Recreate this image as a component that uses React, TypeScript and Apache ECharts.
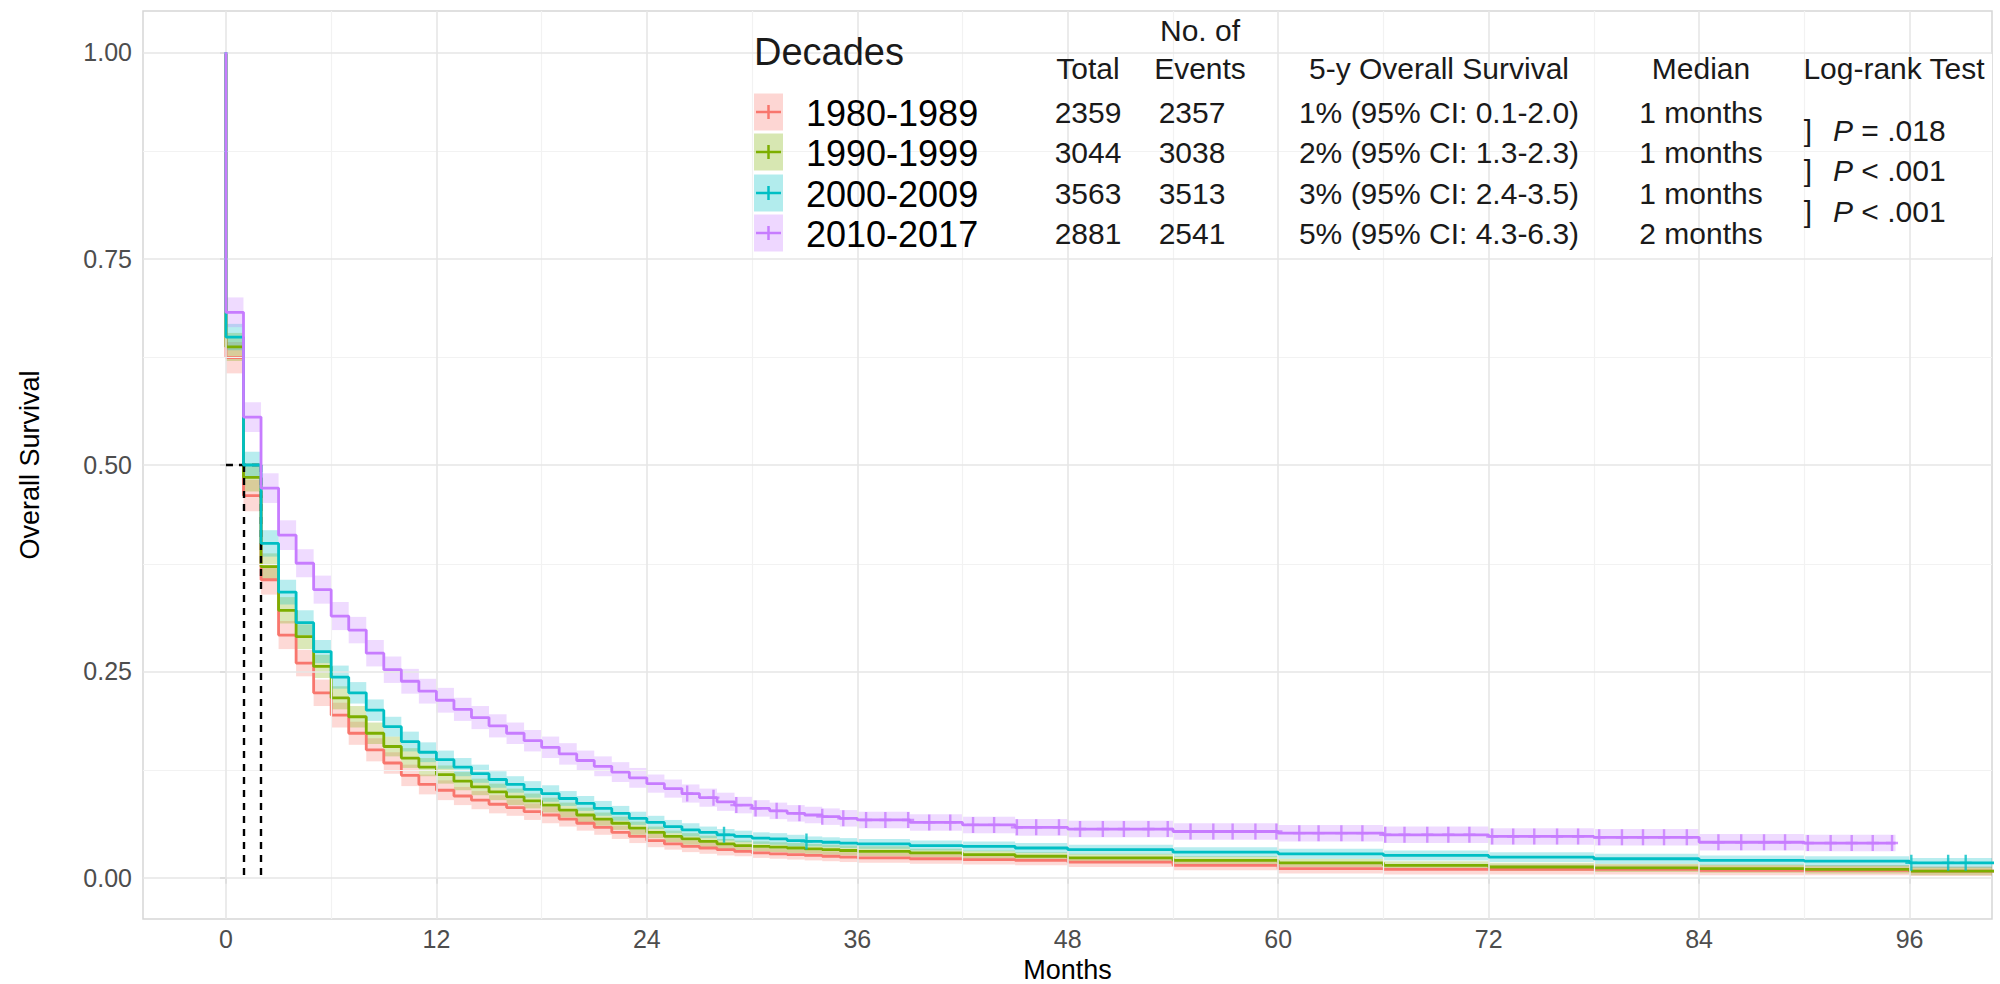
import React, { useEffect, useRef } from "react";
import * as echarts from "echarts";

const FONT = "'Liberation Sans', Arial, Helvetica, sans-serif";

// ---------- table / legend content ----------
const decades = ["1980-1989", "1990-1999", "2000-2009", "2010-2017"];
const colors = ["#F8766D", "#7CAE00", "#00BFC4", "#C77CFF"];
const totals = ["2359", "3044", "3563", "2881"];
const events = ["2357", "3038", "3513", "2541"];
const fiveYear = [
  "1% (95% CI: 0.1-2.0)",
  "2% (95% CI: 1.3-2.3)",
  "3% (95% CI: 2.4-3.5)",
  "5% (95% CI: 4.3-6.3)",
];
const medians = ["1 months", "1 months", "1 months", "2 months"];
const medianMonths = [1, 1, 1, 2];
const pSigns = ["= .018", "< .001", "< .001"];

// ---------- axes ----------
const xTicks = [0, 12, 24, 36, 48, 60, 72, 84, 96];
const xMinor = [6, 18, 30, 42, 54, 66, 78, 90];
const yTicks = [0, 0.25, 0.5, 0.75, 1];
const yMinor = [0.125, 0.375, 0.625, 0.875];

// ---------- survival data (value on [months[i], months[i+1])) ----------
const months = [
  0, 1, 2, 3, 4, 5, 6, 7, 8, 9, 10, 11, 12, 13, 14, 15, 16, 17, 18, 19, 20,
  21, 22, 23, 24, 25, 26, 27, 28, 29, 30, 31, 32, 33, 34, 35, 36, 39, 42, 45,
  48, 54, 60, 66, 72, 78, 84, 90, 96,
];

const surv1980 = [
  0.63, 0.463, 0.361, 0.294, 0.26, 0.224, 0.197, 0.175, 0.155, 0.139,
  0.124, 0.113, 0.106, 0.099, 0.094, 0.089, 0.085, 0.08, 0.076, 0.071,
  0.066, 0.061, 0.055, 0.05, 0.045, 0.041, 0.038, 0.036, 0.034, 0.032,
  0.03, 0.029, 0.028, 0.027, 0.026, 0.025, 0.024,
  0.023, 0.022, 0.021, 0.019, 0.015, 0.011, 0.01, 0.01, 0.01, 0.009, 0.009, 0.008,
];
const surv1990 = [
  0.643, 0.485, 0.377, 0.324, 0.292, 0.256, 0.218, 0.195, 0.175, 0.159,
  0.145, 0.134, 0.125, 0.117, 0.11, 0.104, 0.098, 0.093, 0.088, 0.082,
  0.076, 0.071, 0.066, 0.06, 0.055, 0.05, 0.047, 0.044, 0.041, 0.039,
  0.038, 0.037, 0.036, 0.035, 0.034, 0.033, 0.032,
  0.03, 0.028, 0.026, 0.024, 0.021, 0.018, 0.015, 0.013, 0.012, 0.011, 0.01, 0.008,
];
const surv2000 = [
  0.655, 0.5, 0.405, 0.346, 0.309, 0.274, 0.243, 0.224, 0.203, 0.183,
  0.165, 0.152, 0.143, 0.134, 0.126, 0.119, 0.113, 0.107, 0.102, 0.096,
  0.09, 0.084, 0.078, 0.072, 0.067, 0.062, 0.058, 0.055, 0.052, 0.05,
  0.048, 0.047, 0.045, 0.044, 0.043, 0.042, 0.041,
  0.039, 0.038, 0.036, 0.034, 0.031, 0.029, 0.027, 0.025, 0.023, 0.021, 0.02, 0.018,
];
const surv2010 = [
  0.685, 0.558, 0.472, 0.415, 0.381, 0.349, 0.317, 0.3, 0.272, 0.252,
  0.238, 0.226, 0.215, 0.204, 0.194, 0.184, 0.175, 0.166, 0.158, 0.15,
  0.142, 0.135, 0.128, 0.121, 0.114, 0.108, 0.102, 0.097, 0.092, 0.088,
  0.084, 0.081, 0.078, 0.076, 0.074, 0.072, 0.07,
  0.067, 0.064, 0.061, 0.059, 0.056, 0.054, 0.052, 0.05, 0.049, 0.043, 0.042, 0.042,
];

// half-width of the 95% confidence band
const ci1980 = [
  0.019, 0.019, 0.018, 0.017, 0.016, 0.016, 0.015, 0.014, 0.014, 0.013,
  0.013, 0.012, 0.012, 0.011, 0.011, 0.011, 0.01, 0.01, 0.01, 0.009,
  0.009, 0.009, 0.008, 0.008, 0.008, 0.007, 0.007, 0.007, 0.007, 0.006,
  0.006, 0.006, 0.006, 0.006, 0.006, 0.006, 0.006,
  0.006, 0.006, 0.006, 0.006, 0.006, 0.006, 0.006, 0.006, 0.006, 0.006, 0.006, 0.006,
];
const ci1990 = [
  0.017, 0.017, 0.016, 0.016, 0.015, 0.014, 0.014, 0.013, 0.013, 0.012,
  0.012, 0.011, 0.011, 0.011, 0.01, 0.01, 0.01, 0.009, 0.009, 0.009,
  0.009, 0.008, 0.008, 0.008, 0.007, 0.007, 0.007, 0.007, 0.006, 0.006,
  0.006, 0.006, 0.006, 0.006, 0.006, 0.006, 0.006,
  0.005, 0.005, 0.005, 0.005, 0.005, 0.005, 0.005, 0.005, 0.005, 0.005, 0.005, 0.005,
];
const ci2000 = [
  0.016, 0.016, 0.016, 0.015, 0.015, 0.014, 0.014, 0.013, 0.013, 0.012,
  0.012, 0.012, 0.011, 0.011, 0.011, 0.01, 0.01, 0.01, 0.01, 0.009,
  0.009, 0.009, 0.009, 0.008, 0.008, 0.008, 0.008, 0.007, 0.007, 0.007,
  0.007, 0.007, 0.007, 0.006, 0.006, 0.006, 0.006,
  0.006, 0.006, 0.006, 0.006, 0.006, 0.006, 0.006, 0.006, 0.006, 0.006, 0.006, 0.006,
];
const ci2010 = [
  0.018, 0.018, 0.018, 0.018, 0.017, 0.017, 0.017, 0.016, 0.016, 0.016,
  0.015, 0.015, 0.015, 0.014, 0.014, 0.014, 0.013, 0.013, 0.013, 0.013,
  0.012, 0.012, 0.012, 0.012, 0.011, 0.011, 0.011, 0.011, 0.011, 0.01,
  0.01, 0.01, 0.01, 0.01, 0.01, 0.01, 0.01,
  0.01, 0.01, 0.01, 0.01, 0.01, 0.01, 0.01, 0.01, 0.01, 0.01, 0.01, 0.01,
];

const followUpEnd = [101, 101, 101, 95.2];

// censoring times (+ marks)
const censor1980: number[] = [];
const censor1990: number[] = [];
const censor2000 = [28.4, 33.1, 96.1, 98.2, 99.2];
const censor2010 = [
  26.3, 27.8, 29.1, 30.2, 31.4, 32.7, 34.0, 35.2, 36.5, 37.6, 38.9, 40.1,
  41.3, 42.6, 43.8, 45.1, 46.2, 47.5, 48.7, 50.0, 51.2, 52.6, 53.7, 55.0,
  56.3, 57.4, 58.7, 59.9, 61.2, 62.3, 63.6, 64.8, 66.1, 67.2, 68.5, 69.7,
  70.9, 72.2, 73.4, 74.6, 75.9, 77.1, 78.3, 79.6, 80.8, 82.0, 83.3, 85.1,
  86.4, 87.7, 88.9, 90.2, 91.5, 92.7, 93.9, 95.0,
];

const survAll = [surv1980, surv1990, surv2000, surv2010];
const ciAll = [ci1980, ci1990, ci2000, ci2010];
const censorAll = [censor1980, censor1990, censor2000, censor2010];

// ---------- helpers ----------
function stepPoints(surv: number[], end: number) {
  const pts: number[][] = [[0, 1]];
  for (let i = 0; i < months.length; i++) {
    const t0 = months[i];
    if (t0 >= end) break;
    const t1 = Math.min(i + 1 < months.length ? months[i + 1] : end, end);
    pts.push([t0, surv[i]]);
    pts.push([t1, surv[i]]);
  }
  return pts;
}
function bandItems(surv: number[], ci: number[], end: number) {
  const items: number[][] = [];
  for (let i = 0; i < months.length; i++) {
    const t0 = months[i];
    if (t0 >= end) break;
    const t1 = Math.min(i + 1 < months.length ? months[i + 1] : end, end);
    items.push([t0, t1, surv[i] - ci[i], surv[i] + ci[i]]);
  }
  return items;
}
function valueAt(surv: number[], t: number) {
  let idx = 0;
  for (let i = 0; i < months.length; i++) if (months[i] <= t) idx = i;
  return surv[idx];
}

const rowsY = [112, 152, 193, 233];
const TXT = "#1a1a1a";
const TABLE_FS = 30;

function text(x: number, y: number, t: string, size: number, align = "center", extra: any = {}) {
  return {
    type: "text",
    x,
    y,
    z: 100,
    style: {
      text: t,
      font: `${size}px ${FONT}`,
      fill: TXT,
      textAlign: align,
      textVerticalAlign: "middle",
      ...extra,
    },
  };
}

export default function App() {
  const ref = useRef<HTMLDivElement>(null);

  useEffect(() => {
    if (!ref.current) return;
    const chart = echarts.init(ref.current, undefined, { renderer: "svg" });

    const series: any[] = [];

    // grid lines (through the axes' scales)
    series.push({
      type: "line",
      data: [],
      z: 0,
      silent: true,
      markLine: {
        silent: true,
        symbol: "none",
        label: { show: false },
        animation: false,
        data: [
          ...xMinor.map((v) => ({ xAxis: v, lineStyle: { color: "#f2f2f2", width: 1.2, type: "solid" } })),
          ...yMinor.map((v) => ({ yAxis: v, lineStyle: { color: "#f2f2f2", width: 1.2, type: "solid" } })),
          ...xTicks.map((v) => ({ xAxis: v, lineStyle: { color: "#e6e6e6", width: 1.6, type: "solid" } })),
          ...yTicks.map((v) => ({ yAxis: v, lineStyle: { color: "#e6e6e6", width: 1.6, type: "solid" } })),
        ],
      },
    });

    // confidence bands
    survAll.forEach((surv, k) => {
      const color = colors[k];
      series.push({
        type: "custom",
        name: decades[k] + " CI",
        z: 2,
        clip: true,
        silent: true,
        encode: { x: [0, 1], y: [2, 3] },
        data: bandItems(surv, ciAll[k], followUpEnd[k]),
        renderItem: (params: any, api: any) => {
          const p0 = api.coord([api.value(0), api.value(3)]);
          const p1 = api.coord([api.value(1), api.value(2)]);
          return {
            type: "rect",
            shape: { x: p0[0], y: p0[1], width: p1[0] - p0[0], height: p1[1] - p0[1] },
            style: { fill: color, opacity: 0.28 },
          };
        },
      });
    });

    // survival step curves
    survAll.forEach((surv, k) => {
      series.push({
        type: "line",
        name: decades[k],
        z: 3 + k,
        showSymbol: false,
        clip: true,
        silent: true,
        data: stepPoints(surv, followUpEnd[k]),
        lineStyle: { color: colors[k], width: 2.8 },
      });
    });

    // censor marks
    censorAll.forEach((cens, k) => {
      if (!cens.length) return;
      series.push({
        type: "scatter",
        name: decades[k] + " censor",
        z: 8 + k,
        silent: true,
        symbol: "path://M8,0 H12 V20 H8 Z M0,8.5 H20 V11.5 H0 Z",
        symbolSize: [12, 16],
        itemStyle: { color: colors[k] },
        data: cens.map((t) => [t, valueAt(survAll[k], t)]),
      });
    });

    // median dashed lines
    const medUnique = Array.from(new Set(medianMonths));
    const medMax = Math.max(...medianMonths);
    series.push({
      type: "line",
      data: [],
      z: 20,
      silent: true,
      markLine: {
        silent: true,
        symbol: "none",
        label: { show: false },
        animation: false,
        lineStyle: { color: "#000", width: 2.4, type: [7, 6] },
        data: [
          [{ coord: [0, 0.5] }, { coord: [medMax, 0.5] }],
          ...medUnique.map((m) => [{ coord: [m, 0.5] }, { coord: [m, 0] }]),
        ],
      },
    });

    // legend + table graphics
    const graphic: any[] = [];
    graphic.push({
      type: "rect",
      z: 1,
      silent: true,
      shape: { x: 740, y: 54, width: 1252, height: 203 },
      style: { fill: "#ffffff" },
    });
    graphic.push(text(754, 52, "Decades", 38, "left"));
    decades.forEach((d, k) => {
      const cy = rowsY[k];
      graphic.push({
        type: "rect",
        z: 100,
        shape: { x: 754, y: cy - 18.5, width: 29, height: 37 },
        style: { fill: colors[k], opacity: 0.3 },
      });
      graphic.push({
        type: "line",
        z: 101,
        shape: { x1: 756, y1: cy, x2: 781, y2: cy },
        style: { stroke: colors[k], lineWidth: 2.5 },
      });
      graphic.push({
        type: "line",
        z: 101,
        shape: { x1: 768.5, y1: cy - 7, x2: 768.5, y2: cy + 7 },
        style: { stroke: colors[k], lineWidth: 2.5 },
      });
      graphic.push(text(806, cy + 1, d, 36, "left", { fill: "#000" }));
      graphic.push(text(1088, cy, totals[k], TABLE_FS));
      graphic.push(text(1192, cy, events[k], TABLE_FS));
      graphic.push(text(1439, cy, fiveYear[k], TABLE_FS));
      graphic.push(text(1701, cy, medians[k], TABLE_FS));
    });
    graphic.push(text(1200, 30, "No. of", TABLE_FS));
    graphic.push(text(1088, 68, "Total", TABLE_FS));
    graphic.push(text(1200, 68, "Events", TABLE_FS));
    graphic.push(text(1439, 68, "5-y Overall Survival", TABLE_FS));
    graphic.push(text(1701, 68, "Median", TABLE_FS));
    graphic.push(text(1894, 68, "Log-rank Test", TABLE_FS));
    pSigns.forEach((p, k) => {
      const cy = (rowsY[k] + rowsY[k + 1]) / 2 - 2;
      graphic.push(text(1808, cy, "]", TABLE_FS));
      graphic.push(
        text(1833, cy, `{i|P} {n|${p}}`, TABLE_FS, "left", {
          rich: {
            i: { font: `italic ${TABLE_FS}px ${FONT}`, fill: TXT },
            n: { font: `${TABLE_FS}px ${FONT}`, fill: TXT },
          },
        })
      );
    });

    const option: any = {
      animation: false,
      backgroundColor: "#ffffff",
      grid: {
        left: 143,
        right: 8,
        top: 11,
        bottom: 65,
        show: true,
        backgroundColor: "#ffffff",
        borderColor: "#d6d6d6",
        borderWidth: 1.5,
        containLabel: false,
        outerBoundsMode: "none",
      },
      xAxis: {
        type: "value",
        min: -4.73,
        max: 100.7,
        axisLine: { show: false },
        splitLine: { show: false },
        axisTick: {
          show: true,
          customValues: xTicks,
          length: 6,
          lineStyle: { color: "#b3b3b3", width: 1.5 },
        },
        axisLabel: {
          customValues: xTicks,
          color: "#4d4d4d",
          fontSize: 25,
          fontFamily: FONT,
          margin: 7,
          formatter: (v: number) => String(v),
        },
        name: "Months",
        nameLocation: "middle",
        nameGap: 37,
        nameTextStyle: { color: "#000", fontSize: 27, fontFamily: FONT },
      },
      yAxis: {
        type: "value",
        min: -0.05,
        max: 1.05,
        axisLine: { show: false },
        splitLine: { show: false },
        axisTick: {
          show: true,
          customValues: yTicks,
          length: 6,
          lineStyle: { color: "#b3b3b3", width: 1.5 },
        },
        axisLabel: {
          customValues: yTicks,
          color: "#4d4d4d",
          fontSize: 25,
          fontFamily: FONT,
          margin: 11,
          formatter: (v: number) => v.toFixed(2),
        },
        name: "Overall Survival",
        nameLocation: "middle",
        nameGap: 100,
        nameRotate: 90,
        nameTextStyle: { color: "#000", fontSize: 27, fontFamily: FONT },
      },
      series,
      graphic,
    };

    chart.setOption(option);
    return () => chart.dispose();
  }, []);

  return (
    <div
      ref={ref}
      style={{ position: "fixed", left: 0, top: 0, width: 2000, height: 984, background: "#fff" }}
    />
  );
}
